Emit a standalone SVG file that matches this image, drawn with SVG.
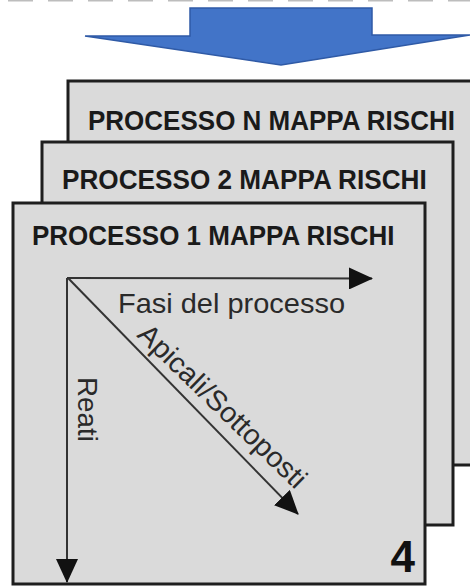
<svg xmlns="http://www.w3.org/2000/svg" width="470" height="586" viewBox="0 0 470 586">
  <style>
    .box { fill: #dadada; stroke: #1e1e1e; stroke-width: 3; }
    .title { font-family: "Liberation Sans", Arial, sans-serif; font-weight: bold; font-size: 28.5px; fill: #1a1a1a; }
    .lbl { font-family: "Liberation Sans", Arial, sans-serif; font-size: 28.5px; fill: #2a2a2a; }
    .axis { stroke: #333; stroke-width: 2; fill: none; }
  </style>
  <defs>
    <marker id="ah" viewBox="0 0 24 22" refX="23" refY="11" markerWidth="24" markerHeight="22" markerUnits="userSpaceOnUse" orient="auto">
      <path d="M0,0 L24,11 L0,22 Z" fill="#111"/>
    </marker>
  </defs>
  <rect width="470" height="586" fill="#ffffff"/>

  <g id="top-dashes">
    <line x1="8" y1="0" x2="470" y2="0" stroke="#bdbdbd" stroke-width="3" stroke-dasharray="25 15"/>
  </g>

  <g id="down-arrow">
    <polygon points="190,8 372,8 372,35 470,35 281,65 85,36 190,36" fill="#4274c8" stroke="#2f5aa6" stroke-width="1.5"/>
  </g>

  <g id="box-n">
    <rect class="box" x="68" y="81" width="404" height="384"/>
    <text class="title" transform="translate(88,130) scale(0.913,1)">PROCESSO N MAPPA RISCHI</text>
  </g>

  <g id="box-2">
    <rect class="box" x="42" y="142" width="411" height="383"/>
    <text class="title" transform="translate(62,189) scale(0.918,1)">PROCESSO 2 MAPPA RISCHI</text>
  </g>

  <g id="box-1">
    <rect class="box" x="13" y="203" width="412" height="381"/>
    <text class="title" transform="translate(32,245) scale(0.913,1)">PROCESSO 1 MAPPA RISCHI</text>
    <text x="415" y="572" text-anchor="end" font-family="Liberation Sans, Arial, sans-serif" font-weight="bold" font-size="44" fill="#111">4</text>
  </g>

  <g id="connectors">
    <line class="axis" x1="67" y1="278" x2="372" y2="278.5" marker-end="url(#ah)"/>
    <line class="axis" x1="67" y1="278" x2="67" y2="582" marker-end="url(#ah)"/>
    <line class="axis" x1="68" y1="278" x2="298" y2="514" marker-end="url(#ah)"/>
    <text class="lbl" x="118" y="313" textLength="227" lengthAdjust="spacingAndGlyphs">Fasi del processo</text>
    <text class="lbl" transform="translate(78,377) rotate(90)" textLength="65" lengthAdjust="spacingAndGlyphs">Reati</text>
    <text class="lbl" transform="translate(136,336) rotate(44)" textLength="222" lengthAdjust="spacingAndGlyphs">Apicali/Sottoposti</text>
  </g>
</svg>
